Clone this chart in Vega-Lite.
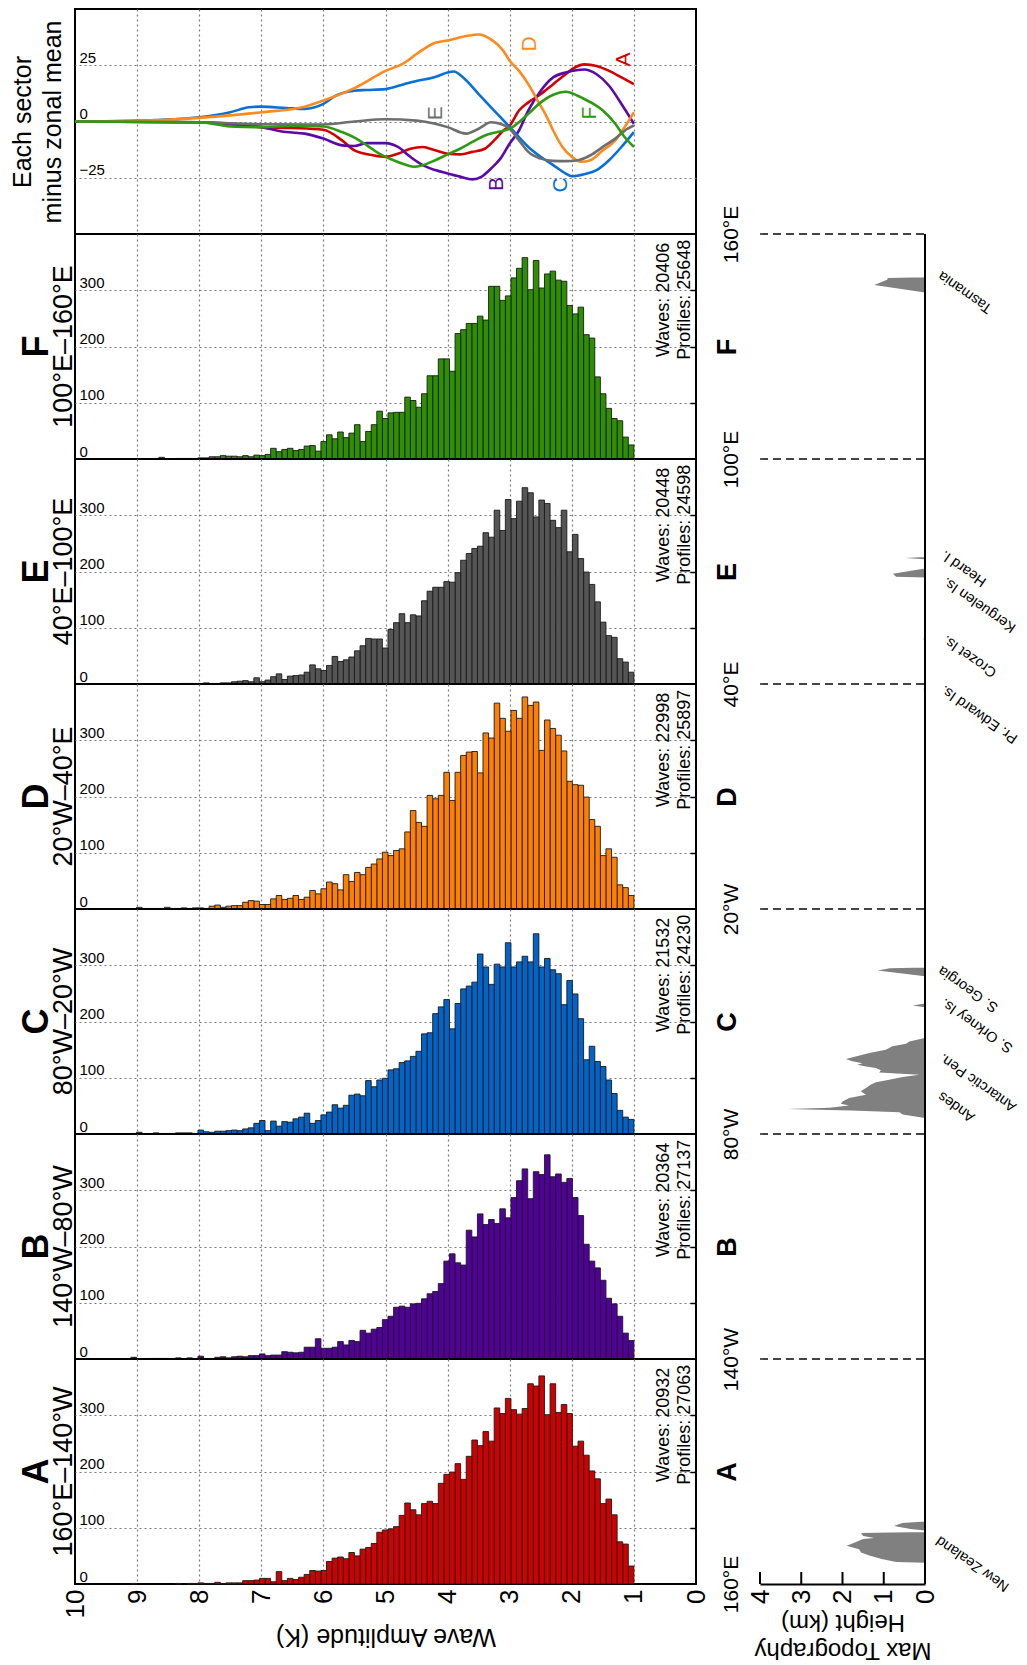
{
  "$schema": "https://vega.github.io/schema/vega-lite/v6.json",
  "background": "white",
  "padding": {"left": 9, "top": 8, "right": 2, "bottom": 2},
  "config": {
    "font": "Liberation Sans",
    "view": {"stroke": "black", "strokeWidth": 2},
    "axis": {"domain": false, "ticks": false, "tickSize": 0, "gridColor": "#7a7a7a", "gridDash": [2, 3], "gridWidth": 1.2, "labelColor": "black", "titleColor": "black", "titleFontWeight": "normal", "labelFont": "Liberation Sans", "titleFont": "Liberation Sans"},
    "title": {"color": "black", "subtitleColor": "black", "font": "Liberation Sans", "subtitleFont": "Liberation Sans"}
  },
  "datasets": {
    "hist": [
      {"s":"A","lo":1,"hi":1.09,"n":32},{"s":"A","lo":1.09,"hi":1.18,"n":71},{"s":"A","lo":1.18,"hi":1.27,"n":75},{"s":"A","lo":1.27,"hi":1.36,"n":123},{"s":"A","lo":1.36,"hi":1.45,"n":151},{"s":"A","lo":1.45,"hi":1.54,"n":143},{"s":"A","lo":1.54,"hi":1.63,"n":187},{"s":"A","lo":1.63,"hi":1.72,"n":201},{"s":"A","lo":1.72,"hi":1.81,"n":229},{"s":"A","lo":1.81,"hi":1.9,"n":254},
      {"s":"A","lo":1.9,"hi":1.99,"n":245},{"s":"A","lo":1.99,"hi":2.08,"n":303},{"s":"A","lo":2.08,"hi":2.17,"n":319},{"s":"A","lo":2.17,"hi":2.26,"n":305},{"s":"A","lo":2.26,"hi":2.35,"n":356},{"s":"A","lo":2.35,"hi":2.44,"n":301},{"s":"A","lo":2.44,"hi":2.53,"n":370},{"s":"A","lo":2.53,"hi":2.62,"n":352},{"s":"A","lo":2.62,"hi":2.71,"n":356},{"s":"A","lo":2.71,"hi":2.8,"n":312},
      {"s":"A","lo":2.8,"hi":2.89,"n":302},{"s":"A","lo":2.89,"hi":2.98,"n":310},{"s":"A","lo":2.98,"hi":3.07,"n":330},{"s":"A","lo":3.07,"hi":3.16,"n":303},{"s":"A","lo":3.16,"hi":3.25,"n":313},{"s":"A","lo":3.25,"hi":3.34,"n":254},{"s":"A","lo":3.34,"hi":3.43,"n":271},{"s":"A","lo":3.43,"hi":3.52,"n":246},{"s":"A","lo":3.52,"hi":3.61,"n":256},{"s":"A","lo":3.61,"hi":3.7,"n":227},
      {"s":"A","lo":3.7,"hi":3.79,"n":186},{"s":"A","lo":3.79,"hi":3.88,"n":214},{"s":"A","lo":3.88,"hi":3.97,"n":199},{"s":"A","lo":3.97,"hi":4.06,"n":195},{"s":"A","lo":4.06,"hi":4.15,"n":179},{"s":"A","lo":4.15,"hi":4.24,"n":143},{"s":"A","lo":4.24,"hi":4.33,"n":147},{"s":"A","lo":4.33,"hi":4.42,"n":143},{"s":"A","lo":4.42,"hi":4.51,"n":123},{"s":"A","lo":4.51,"hi":4.6,"n":132},
      {"s":"A","lo":4.6,"hi":4.69,"n":144},{"s":"A","lo":4.69,"hi":4.78,"n":122},{"s":"A","lo":4.78,"hi":4.87,"n":102},{"s":"A","lo":4.87,"hi":4.96,"n":98},{"s":"A","lo":4.96,"hi":5.05,"n":96},{"s":"A","lo":5.05,"hi":5.14,"n":92},{"s":"A","lo":5.14,"hi":5.23,"n":72},{"s":"A","lo":5.23,"hi":5.32,"n":65},{"s":"A","lo":5.32,"hi":5.41,"n":62},{"s":"A","lo":5.41,"hi":5.5,"n":50},
      {"s":"A","lo":5.5,"hi":5.59,"n":56},{"s":"A","lo":5.59,"hi":5.68,"n":45},{"s":"A","lo":5.68,"hi":5.77,"n":48},{"s":"A","lo":5.77,"hi":5.86,"n":46},{"s":"A","lo":5.86,"hi":5.95,"n":40},{"s":"A","lo":5.95,"hi":6.04,"n":24},{"s":"A","lo":6.04,"hi":6.13,"n":23},{"s":"A","lo":6.13,"hi":6.22,"n":24},{"s":"A","lo":6.22,"hi":6.31,"n":17},{"s":"A","lo":6.31,"hi":6.4,"n":12},
      {"s":"A","lo":6.4,"hi":6.49,"n":8},{"s":"A","lo":6.49,"hi":6.58,"n":10},{"s":"A","lo":6.58,"hi":6.67,"n":6},{"s":"A","lo":6.67,"hi":6.76,"n":22},{"s":"A","lo":6.76,"hi":6.85,"n":4},{"s":"A","lo":6.85,"hi":6.94,"n":10},{"s":"A","lo":6.94,"hi":7.03,"n":10},{"s":"A","lo":7.03,"hi":7.12,"n":7},{"s":"A","lo":7.12,"hi":7.21,"n":6},{"s":"A","lo":7.21,"hi":7.3,"n":6},
      {"s":"A","lo":7.3,"hi":7.39,"n":2},{"s":"A","lo":7.39,"hi":7.48,"n":2},{"s":"A","lo":7.48,"hi":7.57,"n":2},{"s":"A","lo":7.57,"hi":7.66,"n":1},{"s":"A","lo":7.66,"hi":7.75,"n":3},{"s":"A","lo":7.75,"hi":7.84,"n":1},{"s":"A","lo":7.84,"hi":7.93,"n":1},{"s":"A","lo":7.93,"hi":8.02,"n":2},{"s":"A","lo":8.02,"hi":8.11,"n":1},{"s":"A","lo":8.11,"hi":8.2,"n":1},
      {"s":"A","lo":8.29,"hi":8.38,"n":1},{"s":"A","lo":9.01,"hi":9.1,"n":1},

      {"s":"B","lo":1,"hi":1.09,"n":33},{"s":"B","lo":1.09,"hi":1.18,"n":46},{"s":"B","lo":1.18,"hi":1.27,"n":76},{"s":"B","lo":1.27,"hi":1.36,"n":98},{"s":"B","lo":1.36,"hi":1.45,"n":108},{"s":"B","lo":1.45,"hi":1.54,"n":140},{"s":"B","lo":1.54,"hi":1.63,"n":162},{"s":"B","lo":1.63,"hi":1.72,"n":174},{"s":"B","lo":1.72,"hi":1.81,"n":204},{"s":"B","lo":1.81,"hi":1.9,"n":255},
      {"s":"B","lo":1.9,"hi":1.99,"n":287},{"s":"B","lo":1.99,"hi":2.08,"n":321},{"s":"B","lo":2.08,"hi":2.17,"n":314},{"s":"B","lo":2.17,"hi":2.26,"n":329},{"s":"B","lo":2.26,"hi":2.35,"n":324},{"s":"B","lo":2.35,"hi":2.44,"n":363},{"s":"B","lo":2.44,"hi":2.53,"n":328},{"s":"B","lo":2.53,"hi":2.62,"n":333},{"s":"B","lo":2.62,"hi":2.71,"n":285},{"s":"B","lo":2.71,"hi":2.8,"n":338},
      {"s":"B","lo":2.8,"hi":2.89,"n":317},{"s":"B","lo":2.89,"hi":2.98,"n":287},{"s":"B","lo":2.98,"hi":3.07,"n":251},{"s":"B","lo":3.07,"hi":3.16,"n":267},{"s":"B","lo":3.16,"hi":3.25,"n":241},{"s":"B","lo":3.25,"hi":3.34,"n":248},{"s":"B","lo":3.34,"hi":3.43,"n":239},{"s":"B","lo":3.43,"hi":3.52,"n":258},{"s":"B","lo":3.52,"hi":3.61,"n":217},{"s":"B","lo":3.61,"hi":3.7,"n":229},
      {"s":"B","lo":3.7,"hi":3.79,"n":167},{"s":"B","lo":3.79,"hi":3.88,"n":171},{"s":"B","lo":3.88,"hi":3.97,"n":187},{"s":"B","lo":3.97,"hi":4.06,"n":174},{"s":"B","lo":4.06,"hi":4.15,"n":134},{"s":"B","lo":4.15,"hi":4.24,"n":120},{"s":"B","lo":4.24,"hi":4.33,"n":116},{"s":"B","lo":4.33,"hi":4.42,"n":107},{"s":"B","lo":4.42,"hi":4.51,"n":99},{"s":"B","lo":4.51,"hi":4.6,"n":98},
      {"s":"B","lo":4.6,"hi":4.69,"n":92},{"s":"B","lo":4.69,"hi":4.78,"n":94},{"s":"B","lo":4.78,"hi":4.87,"n":92},{"s":"B","lo":4.87,"hi":4.96,"n":76},{"s":"B","lo":4.96,"hi":5.05,"n":70},{"s":"B","lo":5.05,"hi":5.14,"n":56},{"s":"B","lo":5.14,"hi":5.23,"n":53},{"s":"B","lo":5.23,"hi":5.32,"n":46},{"s":"B","lo":5.32,"hi":5.41,"n":51},{"s":"B","lo":5.41,"hi":5.5,"n":31},
      {"s":"B","lo":5.5,"hi":5.59,"n":33},{"s":"B","lo":5.59,"hi":5.68,"n":25},{"s":"B","lo":5.68,"hi":5.77,"n":31},{"s":"B","lo":5.77,"hi":5.86,"n":21},{"s":"B","lo":5.86,"hi":5.95,"n":19},{"s":"B","lo":5.95,"hi":6.04,"n":19},{"s":"B","lo":6.04,"hi":6.13,"n":36},{"s":"B","lo":6.13,"hi":6.22,"n":21},{"s":"B","lo":6.22,"hi":6.31,"n":21},{"s":"B","lo":6.31,"hi":6.4,"n":12},
      {"s":"B","lo":6.4,"hi":6.49,"n":11},{"s":"B","lo":6.49,"hi":6.58,"n":12},{"s":"B","lo":6.58,"hi":6.67,"n":13},{"s":"B","lo":6.67,"hi":6.76,"n":7},{"s":"B","lo":6.76,"hi":6.85,"n":7},{"s":"B","lo":6.85,"hi":6.94,"n":6},{"s":"B","lo":6.94,"hi":7.03,"n":9},{"s":"B","lo":7.03,"hi":7.12,"n":6},{"s":"B","lo":7.12,"hi":7.21,"n":6},{"s":"B","lo":7.21,"hi":7.3,"n":4},
      {"s":"B","lo":7.3,"hi":7.39,"n":5},{"s":"B","lo":7.39,"hi":7.48,"n":4},{"s":"B","lo":7.48,"hi":7.57,"n":2},{"s":"B","lo":7.57,"hi":7.66,"n":4},{"s":"B","lo":7.66,"hi":7.75,"n":3},{"s":"B","lo":7.84,"hi":7.93,"n":1},{"s":"B","lo":7.93,"hi":8.02,"n":5},{"s":"B","lo":8.11,"hi":8.2,"n":2},{"s":"B","lo":8.29,"hi":8.38,"n":2},{"s":"B","lo":8.38,"hi":8.47,"n":1},
      {"s":"B","lo":8.47,"hi":8.56,"n":1},{"s":"B","lo":8.56,"hi":8.65,"n":1},{"s":"B","lo":8.65,"hi":8.74,"n":1},{"s":"B","lo":8.74,"hi":8.83,"n":1},{"s":"B","lo":9.01,"hi":9.1,"n":3},

      {"s":"C","lo":1,"hi":1.09,"n":26},{"s":"C","lo":1.09,"hi":1.18,"n":30},{"s":"C","lo":1.18,"hi":1.27,"n":42},{"s":"C","lo":1.27,"hi":1.36,"n":72},{"s":"C","lo":1.36,"hi":1.45,"n":96},{"s":"C","lo":1.45,"hi":1.54,"n":120},{"s":"C","lo":1.54,"hi":1.63,"n":129},{"s":"C","lo":1.63,"hi":1.72,"n":156},{"s":"C","lo":1.72,"hi":1.81,"n":132},{"s":"C","lo":1.81,"hi":1.9,"n":205},
      {"s":"C","lo":1.9,"hi":1.99,"n":249},{"s":"C","lo":1.99,"hi":2.08,"n":273},{"s":"C","lo":2.08,"hi":2.17,"n":230},{"s":"C","lo":2.17,"hi":2.26,"n":285},{"s":"C","lo":2.26,"hi":2.35,"n":292},{"s":"C","lo":2.35,"hi":2.44,"n":312},{"s":"C","lo":2.44,"hi":2.53,"n":297},{"s":"C","lo":2.53,"hi":2.62,"n":356},{"s":"C","lo":2.62,"hi":2.71,"n":306},{"s":"C","lo":2.71,"hi":2.8,"n":316},
      {"s":"C","lo":2.8,"hi":2.89,"n":306},{"s":"C","lo":2.89,"hi":2.98,"n":297},{"s":"C","lo":2.98,"hi":3.07,"n":340},{"s":"C","lo":3.07,"hi":3.16,"n":297},{"s":"C","lo":3.16,"hi":3.25,"n":302},{"s":"C","lo":3.25,"hi":3.34,"n":266},{"s":"C","lo":3.34,"hi":3.43,"n":297},{"s":"C","lo":3.43,"hi":3.52,"n":320},{"s":"C","lo":3.52,"hi":3.61,"n":270},{"s":"C","lo":3.61,"hi":3.7,"n":263},
      {"s":"C","lo":3.7,"hi":3.79,"n":258},{"s":"C","lo":3.79,"hi":3.88,"n":232},{"s":"C","lo":3.88,"hi":3.97,"n":187},{"s":"C","lo":3.97,"hi":4.06,"n":239},{"s":"C","lo":4.06,"hi":4.15,"n":226},{"s":"C","lo":4.15,"hi":4.24,"n":214},{"s":"C","lo":4.24,"hi":4.33,"n":180},{"s":"C","lo":4.33,"hi":4.42,"n":178},{"s":"C","lo":4.42,"hi":4.51,"n":147},{"s":"C","lo":4.51,"hi":4.6,"n":138},
      {"s":"C","lo":4.6,"hi":4.69,"n":130},{"s":"C","lo":4.69,"hi":4.78,"n":127},{"s":"C","lo":4.78,"hi":4.87,"n":116},{"s":"C","lo":4.87,"hi":4.96,"n":114},{"s":"C","lo":4.96,"hi":5.05,"n":99},{"s":"C","lo":5.05,"hi":5.14,"n":96},{"s":"C","lo":5.14,"hi":5.23,"n":84},{"s":"C","lo":5.23,"hi":5.32,"n":95},{"s":"C","lo":5.32,"hi":5.41,"n":68},{"s":"C","lo":5.41,"hi":5.5,"n":71},
      {"s":"C","lo":5.5,"hi":5.59,"n":69},{"s":"C","lo":5.59,"hi":5.68,"n":51},{"s":"C","lo":5.68,"hi":5.77,"n":46},{"s":"C","lo":5.77,"hi":5.86,"n":52},{"s":"C","lo":5.86,"hi":5.95,"n":39},{"s":"C","lo":5.95,"hi":6.04,"n":34},{"s":"C","lo":6.04,"hi":6.13,"n":24},{"s":"C","lo":6.13,"hi":6.22,"n":19},{"s":"C","lo":6.22,"hi":6.31,"n":37},{"s":"C","lo":6.31,"hi":6.4,"n":30},
      {"s":"C","lo":6.4,"hi":6.49,"n":27},{"s":"C","lo":6.49,"hi":6.58,"n":21},{"s":"C","lo":6.58,"hi":6.67,"n":22},{"s":"C","lo":6.67,"hi":6.76,"n":14},{"s":"C","lo":6.76,"hi":6.85,"n":23},{"s":"C","lo":6.85,"hi":6.94,"n":6},{"s":"C","lo":6.94,"hi":7.03,"n":24},{"s":"C","lo":7.03,"hi":7.12,"n":19},{"s":"C","lo":7.12,"hi":7.21,"n":11},{"s":"C","lo":7.21,"hi":7.3,"n":9},
      {"s":"C","lo":7.3,"hi":7.39,"n":6},{"s":"C","lo":7.39,"hi":7.48,"n":7},{"s":"C","lo":7.48,"hi":7.57,"n":6},{"s":"C","lo":7.57,"hi":7.66,"n":5},{"s":"C","lo":7.66,"hi":7.75,"n":5},{"s":"C","lo":7.75,"hi":7.84,"n":3},{"s":"C","lo":7.84,"hi":7.93,"n":4},{"s":"C","lo":7.93,"hi":8.02,"n":7},{"s":"C","lo":8.02,"hi":8.11,"n":1},{"s":"C","lo":8.11,"hi":8.2,"n":2},
      {"s":"C","lo":8.2,"hi":8.29,"n":2},{"s":"C","lo":8.29,"hi":8.38,"n":2},{"s":"C","lo":8.38,"hi":8.47,"n":1},{"s":"C","lo":8.47,"hi":8.56,"n":1},{"s":"C","lo":8.56,"hi":8.65,"n":1},{"s":"C","lo":8.65,"hi":8.74,"n":2},{"s":"C","lo":8.92,"hi":9.01,"n":3},{"s":"C","lo":9.01,"hi":9.1,"n":1},{"s":"C","lo":9.82,"hi":9.91,"n":1},

      {"s":"D","lo":1,"hi":1.09,"n":24},{"s":"D","lo":1.09,"hi":1.18,"n":38},{"s":"D","lo":1.18,"hi":1.27,"n":43},{"s":"D","lo":1.27,"hi":1.36,"n":92},{"s":"D","lo":1.36,"hi":1.45,"n":107},{"s":"D","lo":1.45,"hi":1.54,"n":95},{"s":"D","lo":1.54,"hi":1.63,"n":147},{"s":"D","lo":1.63,"hi":1.72,"n":159},{"s":"D","lo":1.72,"hi":1.81,"n":199},{"s":"D","lo":1.81,"hi":1.9,"n":220},
      {"s":"D","lo":1.9,"hi":1.99,"n":221},{"s":"D","lo":1.99,"hi":2.08,"n":227},{"s":"D","lo":2.08,"hi":2.17,"n":281},{"s":"D","lo":2.17,"hi":2.26,"n":309},{"s":"D","lo":2.26,"hi":2.35,"n":321},{"s":"D","lo":2.35,"hi":2.44,"n":336},{"s":"D","lo":2.44,"hi":2.53,"n":282},{"s":"D","lo":2.53,"hi":2.62,"n":368},{"s":"D","lo":2.62,"hi":2.71,"n":362},{"s":"D","lo":2.71,"hi":2.8,"n":377},
      {"s":"D","lo":2.8,"hi":2.89,"n":339},{"s":"D","lo":2.89,"hi":2.98,"n":353},{"s":"D","lo":2.98,"hi":3.07,"n":316},{"s":"D","lo":3.07,"hi":3.16,"n":339},{"s":"D","lo":3.16,"hi":3.25,"n":366},{"s":"D","lo":3.25,"hi":3.34,"n":304},{"s":"D","lo":3.34,"hi":3.43,"n":313},{"s":"D","lo":3.43,"hi":3.52,"n":242},{"s":"D","lo":3.52,"hi":3.61,"n":280},{"s":"D","lo":3.61,"hi":3.7,"n":279},
      {"s":"D","lo":3.7,"hi":3.79,"n":273},{"s":"D","lo":3.79,"hi":3.88,"n":243},{"s":"D","lo":3.88,"hi":3.97,"n":193},{"s":"D","lo":3.97,"hi":4.06,"n":243},{"s":"D","lo":4.06,"hi":4.15,"n":202},{"s":"D","lo":4.15,"hi":4.24,"n":196},{"s":"D","lo":4.24,"hi":4.33,"n":202},{"s":"D","lo":4.33,"hi":4.42,"n":147},{"s":"D","lo":4.42,"hi":4.51,"n":154},{"s":"D","lo":4.51,"hi":4.6,"n":175},
      {"s":"D","lo":4.6,"hi":4.69,"n":137},{"s":"D","lo":4.69,"hi":4.78,"n":107},{"s":"D","lo":4.78,"hi":4.87,"n":104},{"s":"D","lo":4.87,"hi":4.96,"n":95},{"s":"D","lo":4.96,"hi":5.05,"n":101},{"s":"D","lo":5.05,"hi":5.14,"n":89},{"s":"D","lo":5.14,"hi":5.23,"n":80},{"s":"D","lo":5.23,"hi":5.32,"n":74},{"s":"D","lo":5.32,"hi":5.41,"n":61},{"s":"D","lo":5.41,"hi":5.5,"n":65},
      {"s":"D","lo":5.5,"hi":5.59,"n":49},{"s":"D","lo":5.59,"hi":5.68,"n":61},{"s":"D","lo":5.68,"hi":5.77,"n":34},{"s":"D","lo":5.77,"hi":5.86,"n":45},{"s":"D","lo":5.86,"hi":5.95,"n":48},{"s":"D","lo":5.95,"hi":6.04,"n":36},{"s":"D","lo":6.04,"hi":6.13,"n":27},{"s":"D","lo":6.13,"hi":6.22,"n":33},{"s":"D","lo":6.22,"hi":6.31,"n":21},{"s":"D","lo":6.31,"hi":6.4,"n":17},
      {"s":"D","lo":6.4,"hi":6.49,"n":24},{"s":"D","lo":6.49,"hi":6.58,"n":19},{"s":"D","lo":6.58,"hi":6.67,"n":17},{"s":"D","lo":6.67,"hi":6.76,"n":24},{"s":"D","lo":6.76,"hi":6.85,"n":18},{"s":"D","lo":6.85,"hi":6.94,"n":8},{"s":"D","lo":6.94,"hi":7.03,"n":8},{"s":"D","lo":7.03,"hi":7.12,"n":14},{"s":"D","lo":7.12,"hi":7.21,"n":15},{"s":"D","lo":7.21,"hi":7.3,"n":12},
      {"s":"D","lo":7.3,"hi":7.39,"n":6},{"s":"D","lo":7.39,"hi":7.48,"n":6},{"s":"D","lo":7.48,"hi":7.57,"n":5},{"s":"D","lo":7.57,"hi":7.66,"n":3},{"s":"D","lo":7.66,"hi":7.75,"n":7},{"s":"D","lo":7.75,"hi":7.84,"n":5},{"s":"D","lo":7.84,"hi":7.93,"n":1},{"s":"D","lo":7.93,"hi":8.02,"n":2},{"s":"D","lo":8.02,"hi":8.11,"n":2},{"s":"D","lo":8.11,"hi":8.2,"n":1},
      {"s":"D","lo":8.2,"hi":8.29,"n":2},{"s":"D","lo":8.29,"hi":8.38,"n":1},{"s":"D","lo":8.38,"hi":8.47,"n":1},{"s":"D","lo":8.47,"hi":8.56,"n":3},{"s":"D","lo":8.56,"hi":8.65,"n":1},{"s":"D","lo":8.65,"hi":8.74,"n":1},{"s":"D","lo":8.74,"hi":8.83,"n":1},{"s":"D","lo":8.83,"hi":8.92,"n":1},{"s":"D","lo":8.92,"hi":9.01,"n":3},

      {"s":"E","lo":1,"hi":1.09,"n":21},{"s":"E","lo":1.09,"hi":1.18,"n":39},{"s":"E","lo":1.18,"hi":1.27,"n":45},{"s":"E","lo":1.27,"hi":1.36,"n":83},{"s":"E","lo":1.36,"hi":1.45,"n":86},{"s":"E","lo":1.45,"hi":1.54,"n":110},{"s":"E","lo":1.54,"hi":1.63,"n":146},{"s":"E","lo":1.63,"hi":1.72,"n":177},{"s":"E","lo":1.72,"hi":1.81,"n":199},{"s":"E","lo":1.81,"hi":1.9,"n":223},
      {"s":"E","lo":1.9,"hi":1.99,"n":266},{"s":"E","lo":1.99,"hi":2.08,"n":235},{"s":"E","lo":2.08,"hi":2.17,"n":309},{"s":"E","lo":2.17,"hi":2.26,"n":278},{"s":"E","lo":2.26,"hi":2.35,"n":291},{"s":"E","lo":2.35,"hi":2.44,"n":321},{"s":"E","lo":2.44,"hi":2.53,"n":327},{"s":"E","lo":2.53,"hi":2.62,"n":297},{"s":"E","lo":2.62,"hi":2.71,"n":340},{"s":"E","lo":2.71,"hi":2.8,"n":349},
      {"s":"E","lo":2.8,"hi":2.89,"n":325},{"s":"E","lo":2.89,"hi":2.98,"n":294},{"s":"E","lo":2.98,"hi":3.07,"n":328},{"s":"E","lo":3.07,"hi":3.16,"n":273},{"s":"E","lo":3.16,"hi":3.25,"n":309},{"s":"E","lo":3.25,"hi":3.34,"n":261},{"s":"E","lo":3.34,"hi":3.43,"n":269},{"s":"E","lo":3.43,"hi":3.52,"n":245},{"s":"E","lo":3.52,"hi":3.61,"n":241},{"s":"E","lo":3.61,"hi":3.7,"n":232},
      {"s":"E","lo":3.7,"hi":3.79,"n":220},{"s":"E","lo":3.79,"hi":3.88,"n":198},{"s":"E","lo":3.88,"hi":3.97,"n":181},{"s":"E","lo":3.97,"hi":4.06,"n":182},{"s":"E","lo":4.06,"hi":4.15,"n":172},{"s":"E","lo":4.15,"hi":4.24,"n":172},{"s":"E","lo":4.24,"hi":4.33,"n":165},{"s":"E","lo":4.33,"hi":4.42,"n":148},{"s":"E","lo":4.42,"hi":4.51,"n":121},{"s":"E","lo":4.51,"hi":4.6,"n":123},
      {"s":"E","lo":4.6,"hi":4.69,"n":109},{"s":"E","lo":4.69,"hi":4.78,"n":125},{"s":"E","lo":4.78,"hi":4.87,"n":109},{"s":"E","lo":4.87,"hi":4.96,"n":97},{"s":"E","lo":4.96,"hi":5.05,"n":64},{"s":"E","lo":5.05,"hi":5.14,"n":80},{"s":"E","lo":5.14,"hi":5.23,"n":80},{"s":"E","lo":5.23,"hi":5.32,"n":81},{"s":"E","lo":5.32,"hi":5.41,"n":68},{"s":"E","lo":5.41,"hi":5.5,"n":59},
      {"s":"E","lo":5.5,"hi":5.59,"n":48},{"s":"E","lo":5.59,"hi":5.68,"n":43},{"s":"E","lo":5.68,"hi":5.77,"n":40},{"s":"E","lo":5.77,"hi":5.86,"n":49},{"s":"E","lo":5.86,"hi":5.95,"n":33},{"s":"E","lo":5.95,"hi":6.04,"n":24},{"s":"E","lo":6.04,"hi":6.13,"n":27},{"s":"E","lo":6.13,"hi":6.22,"n":34},{"s":"E","lo":6.22,"hi":6.31,"n":21},{"s":"E","lo":6.31,"hi":6.4,"n":16},
      {"s":"E","lo":6.4,"hi":6.49,"n":15},{"s":"E","lo":6.49,"hi":6.58,"n":14},{"s":"E","lo":6.58,"hi":6.67,"n":8},{"s":"E","lo":6.67,"hi":6.76,"n":18},{"s":"E","lo":6.76,"hi":6.85,"n":13},{"s":"E","lo":6.85,"hi":6.94,"n":7},{"s":"E","lo":6.94,"hi":7.03,"n":4},{"s":"E","lo":7.03,"hi":7.12,"n":11},{"s":"E","lo":7.12,"hi":7.21,"n":4},{"s":"E","lo":7.21,"hi":7.3,"n":6},
      {"s":"E","lo":7.3,"hi":7.39,"n":5},{"s":"E","lo":7.39,"hi":7.48,"n":4},{"s":"E","lo":7.48,"hi":7.57,"n":2},{"s":"E","lo":7.57,"hi":7.66,"n":2},{"s":"E","lo":7.66,"hi":7.75,"n":1},{"s":"E","lo":7.75,"hi":7.84,"n":1},{"s":"E","lo":7.84,"hi":7.93,"n":2},{"s":"E","lo":7.93,"hi":8.02,"n":1},{"s":"E","lo":8.02,"hi":8.11,"n":1},{"s":"E","lo":8.11,"hi":8.2,"n":1},
      {"s":"E","lo":8.2,"hi":8.29,"n":1},

      {"s":"F","lo":1,"hi":1.09,"n":25},{"s":"F","lo":1.09,"hi":1.18,"n":39},{"s":"F","lo":1.18,"hi":1.27,"n":68},{"s":"F","lo":1.27,"hi":1.36,"n":72},{"s":"F","lo":1.36,"hi":1.45,"n":90},{"s":"F","lo":1.45,"hi":1.54,"n":116},{"s":"F","lo":1.54,"hi":1.63,"n":146},{"s":"F","lo":1.63,"hi":1.72,"n":215},{"s":"F","lo":1.72,"hi":1.81,"n":221},{"s":"F","lo":1.81,"hi":1.9,"n":270},
      {"s":"F","lo":1.9,"hi":1.99,"n":258},{"s":"F","lo":1.99,"hi":2.08,"n":273},{"s":"F","lo":2.08,"hi":2.17,"n":316},{"s":"F","lo":2.17,"hi":2.26,"n":318},{"s":"F","lo":2.26,"hi":2.35,"n":334},{"s":"F","lo":2.35,"hi":2.44,"n":329},{"s":"F","lo":2.44,"hi":2.53,"n":304},{"s":"F","lo":2.53,"hi":2.62,"n":353},{"s":"F","lo":2.62,"hi":2.71,"n":301},{"s":"F","lo":2.71,"hi":2.8,"n":358},
      {"s":"F","lo":2.8,"hi":2.89,"n":339},{"s":"F","lo":2.89,"hi":2.98,"n":322},{"s":"F","lo":2.98,"hi":3.07,"n":290},{"s":"F","lo":3.07,"hi":3.16,"n":282},{"s":"F","lo":3.16,"hi":3.25,"n":307},{"s":"F","lo":3.25,"hi":3.34,"n":307},{"s":"F","lo":3.34,"hi":3.43,"n":247},{"s":"F","lo":3.43,"hi":3.52,"n":254},{"s":"F","lo":3.52,"hi":3.61,"n":241},{"s":"F","lo":3.61,"hi":3.7,"n":241},
      {"s":"F","lo":3.7,"hi":3.79,"n":230},{"s":"F","lo":3.79,"hi":3.88,"n":223},{"s":"F","lo":3.88,"hi":3.97,"n":156},{"s":"F","lo":3.97,"hi":4.06,"n":178},{"s":"F","lo":4.06,"hi":4.15,"n":178},{"s":"F","lo":4.15,"hi":4.24,"n":148},{"s":"F","lo":4.24,"hi":4.33,"n":148},{"s":"F","lo":4.33,"hi":4.42,"n":116},{"s":"F","lo":4.42,"hi":4.51,"n":92},{"s":"F","lo":4.51,"hi":4.6,"n":104},
      {"s":"F","lo":4.6,"hi":4.69,"n":110},{"s":"F","lo":4.69,"hi":4.78,"n":83},{"s":"F","lo":4.78,"hi":4.87,"n":83},{"s":"F","lo":4.87,"hi":4.96,"n":82},{"s":"F","lo":4.96,"hi":5.05,"n":72},{"s":"F","lo":5.05,"hi":5.14,"n":85},{"s":"F","lo":5.14,"hi":5.23,"n":61},{"s":"F","lo":5.23,"hi":5.32,"n":49},{"s":"F","lo":5.32,"hi":5.41,"n":31},{"s":"F","lo":5.41,"hi":5.5,"n":61},
      {"s":"F","lo":5.5,"hi":5.59,"n":46},{"s":"F","lo":5.59,"hi":5.68,"n":38},{"s":"F","lo":5.68,"hi":5.77,"n":48},{"s":"F","lo":5.77,"hi":5.86,"n":36},{"s":"F","lo":5.86,"hi":5.95,"n":43},{"s":"F","lo":5.95,"hi":6.04,"n":31},{"s":"F","lo":6.04,"hi":6.13,"n":14},{"s":"F","lo":6.13,"hi":6.22,"n":24},{"s":"F","lo":6.22,"hi":6.31,"n":23},{"s":"F","lo":6.31,"hi":6.4,"n":17},
      {"s":"F","lo":6.4,"hi":6.49,"n":15},{"s":"F","lo":6.49,"hi":6.58,"n":19},{"s":"F","lo":6.58,"hi":6.67,"n":17},{"s":"F","lo":6.67,"hi":6.76,"n":13},{"s":"F","lo":6.76,"hi":6.85,"n":19},{"s":"F","lo":6.85,"hi":6.94,"n":8},{"s":"F","lo":6.94,"hi":7.03,"n":6},{"s":"F","lo":7.03,"hi":7.12,"n":7},{"s":"F","lo":7.12,"hi":7.21,"n":4},{"s":"F","lo":7.21,"hi":7.3,"n":6},
      {"s":"F","lo":7.3,"hi":7.39,"n":4},{"s":"F","lo":7.39,"hi":7.48,"n":5},{"s":"F","lo":7.48,"hi":7.57,"n":5},{"s":"F","lo":7.57,"hi":7.66,"n":6},{"s":"F","lo":7.66,"hi":7.75,"n":4},{"s":"F","lo":7.75,"hi":7.84,"n":4},{"s":"F","lo":7.84,"hi":7.93,"n":2},{"s":"F","lo":7.93,"hi":8.02,"n":2},{"s":"F","lo":8.02,"hi":8.11,"n":1},{"s":"F","lo":8.11,"hi":8.2,"n":1},
      {"s":"F","lo":8.2,"hi":8.29,"n":1},{"s":"F","lo":8.29,"hi":8.38,"n":1},{"s":"F","lo":8.56,"hi":8.65,"n":3}
    ],
    "stats": [
      {"s":"A","lines":["Waves: 20932","Profiles: 27063"]},
      {"s":"B","lines":["Waves: 20364","Profiles: 27137"]},
      {"s":"C","lines":["Waves: 21532","Profiles: 24230"]},
      {"s":"D","lines":["Waves: 22998","Profiles: 25897"]},
      {"s":"E","lines":["Waves: 20448","Profiles: 24598"]},
      {"s":"F","lines":["Waves: 20406","Profiles: 25648"]}
    ],
    "diff": [
      {"s":"A","amp":10,"v":0},{"s":"A","amp":8,"v":-0.3},{"s":"A","amp":7,"v":-2.5},{"s":"A","amp":6.5,"v":-2.9},{"s":"A","amp":6,"v":-3.7},{"s":"A","amp":5.7,"v":-8.4},{"s":"A","amp":5.5,"v":-12.8},{"s":"A","amp":5.2,"v":-15},{"s":"A","amp":5,"v":-15.7},{"s":"A","amp":4.8,"v":-14.3},{"s":"A","amp":4.6,"v":-12.1},{"s":"A","amp":4.4,"v":-11.3},{"s":"A","amp":4.2,"v":-12.8},{"s":"A","amp":4,"v":-14.3},{"s":"A","amp":3.8,"v":-14.6},{"s":"A","amp":3.6,"v":-13.5},{"s":"A","amp":3.4,"v":-12.1},{"s":"A","amp":3.25,"v":-8.4},{"s":"A","amp":3.1,"v":-4},{"s":"A","amp":3,"v":-1.8},{"s":"A","amp":2.85,"v":4.9},{"s":"A","amp":2.7,"v":8.5},{"s":"A","amp":2.5,"v":12.2},{"s":"A","amp":2.3,"v":16.6},{"s":"A","amp":2.1,"v":21},{"s":"A","amp":1.95,"v":24},{"s":"A","amp":1.8,"v":25.4},{"s":"A","amp":1.6,"v":24.7},{"s":"A","amp":1.4,"v":22.5},{"s":"A","amp":1.2,"v":19.6},{"s":"A","amp":1,"v":16.6},
      {"s":"B","amp":10,"v":0},{"s":"B","amp":8,"v":-0.3},{"s":"B","amp":7,"v":-2.5},{"s":"B","amp":6.6,"v":-4.7},{"s":"B","amp":6.3,"v":-5.4},{"s":"B","amp":6,"v":-7.6},{"s":"B","amp":5.7,"v":-10.6},{"s":"B","amp":5.5,"v":-10.9},{"s":"B","amp":5.3,"v":-9.6},{"s":"B","amp":5,"v":-9.6},{"s":"B","amp":4.8,"v":-11.3},{"s":"B","amp":4.6,"v":-15.7},{"s":"B","amp":4.4,"v":-19.4},{"s":"B","amp":4.2,"v":-21.6},{"s":"B","amp":4,"v":-23.1},{"s":"B","amp":3.8,"v":-24.5},{"s":"B","amp":3.6,"v":-25.7},{"s":"B","amp":3.45,"v":-24.5},{"s":"B","amp":3.3,"v":-20.9},{"s":"B","amp":3.15,"v":-16.5},{"s":"B","amp":3,"v":-9.8},{"s":"B","amp":2.85,"v":-4},{"s":"B","amp":2.7,"v":4.9},{"s":"B","amp":2.5,"v":13.7},{"s":"B","amp":2.3,"v":19.6},{"s":"B","amp":2.1,"v":21.8},{"s":"B","amp":1.9,"v":22.9},{"s":"B","amp":1.8,"v":23.1},{"s":"B","amp":1.6,"v":21},{"s":"B","amp":1.4,"v":15.9},{"s":"B","amp":1.2,"v":7.8},{"s":"B","amp":1,"v":-1},
      {"s":"C","amp":10,"v":0},{"s":"C","amp":9,"v":0.4},{"s":"C","amp":8,"v":1.9},{"s":"C","amp":7.5,"v":4.1},{"s":"C","amp":7.2,"v":6.3},{"s":"C","amp":7,"v":6.6},{"s":"C","amp":6.6,"v":6},{"s":"C","amp":6.3,"v":5.6},{"s":"C","amp":6,"v":7.8},{"s":"C","amp":5.8,"v":11.5},{"s":"C","amp":5.5,"v":13.7},{"s":"C","amp":5.3,"v":14},{"s":"C","amp":5,"v":14.4},{"s":"C","amp":4.7,"v":16.6},{"s":"C","amp":4.5,"v":18},{"s":"C","amp":4.2,"v":19.8},{"s":"C","amp":4,"v":21.8},{"s":"C","amp":3.9,"v":22.2},{"s":"C","amp":3.75,"v":19.6},{"s":"C","amp":3.5,"v":12.2},{"s":"C","amp":3.3,"v":6.3},{"s":"C","amp":3.05,"v":-1},{"s":"C","amp":2.9,"v":-5.4},{"s":"C","amp":2.7,"v":-11.3},{"s":"C","amp":2.5,"v":-15.7},{"s":"C","amp":2.3,"v":-19.4},{"s":"C","amp":2.1,"v":-23.1},{"s":"C","amp":2,"v":-24.3},{"s":"C","amp":1.8,"v":-23.4},{"s":"C","amp":1.6,"v":-21.6},{"s":"C","amp":1.4,"v":-17.2},{"s":"C","amp":1.2,"v":-11.3},{"s":"C","amp":1,"v":-4.7},
      {"s":"D","amp":10,"v":0},{"s":"D","amp":9,"v":0.3},{"s":"D","amp":8,"v":1.6},{"s":"D","amp":7,"v":4.1},{"s":"D","amp":6.3,"v":6.6},{"s":"D","amp":6,"v":9.3},{"s":"D","amp":5.5,"v":14.8},{"s":"D","amp":5,"v":22.5},{"s":"D","amp":4.7,"v":26},{"s":"D","amp":4.5,"v":30},{"s":"D","amp":4.2,"v":35},{"s":"D","amp":4,"v":36},{"s":"D","amp":3.7,"v":38},{"s":"D","amp":3.5,"v":38.7},{"s":"D","amp":3.3,"v":36.5},{"s":"D","amp":3.1,"v":31.3},{"s":"D","amp":3,"v":27},{"s":"D","amp":2.85,"v":22.5},{"s":"D","amp":2.7,"v":16.6},{"s":"D","amp":2.55,"v":9.3},{"s":"D","amp":2.4,"v":1.9},{"s":"D","amp":2.3,"v":-4},{"s":"D","amp":2.15,"v":-11.3},{"s":"D","amp":2,"v":-15.7},{"s":"D","amp":1.85,"v":-17.9},{"s":"D","amp":1.7,"v":-17.2},{"s":"D","amp":1.5,"v":-12.8},{"s":"D","amp":1.3,"v":-8.4},{"s":"D","amp":1.15,"v":-2.5},{"s":"D","amp":1,"v":4.1},
      {"s":"E","amp":10,"v":0},{"s":"E","amp":8,"v":-0.3},{"s":"E","amp":7,"v":-1.2},{"s":"E","amp":6,"v":-1.3},{"s":"E","amp":5.5,"v":0},{"s":"E","amp":5,"v":1},{"s":"E","amp":4.5,"v":0.4},{"s":"E","amp":4.2,"v":-1},{"s":"E","amp":4,"v":-2.5},{"s":"E","amp":3.7,"v":-5.4},{"s":"E","amp":3.5,"v":-3.2},{"s":"E","amp":3.3,"v":-0.3},{"s":"E","amp":3.2,"v":-0.7},{"s":"E","amp":3,"v":-3.2},{"s":"E","amp":2.85,"v":-8.4},{"s":"E","amp":2.7,"v":-13.5},{"s":"E","amp":2.5,"v":-16.5},{"s":"E","amp":2.3,"v":-17.5},{"s":"E","amp":2.1,"v":-17.6},{"s":"E","amp":1.9,"v":-17.2},{"s":"E","amp":1.7,"v":-15},{"s":"E","amp":1.5,"v":-11.3},{"s":"E","amp":1.3,"v":-7.6},{"s":"E","amp":1.1,"v":-3.2},{"s":"E","amp":1,"v":-1.8},
      {"s":"F","amp":10,"v":0},{"s":"F","amp":8,"v":-0.3},{"s":"F","amp":7.5,"v":-2.2},{"s":"F","amp":7,"v":-2.5},{"s":"F","amp":6.5,"v":-1.9},{"s":"F","amp":6,"v":-2.2},{"s":"F","amp":5.7,"v":-4.7},{"s":"F","amp":5.5,"v":-7.2},{"s":"F","amp":5.3,"v":-10.6},{"s":"F","amp":5.1,"v":-14.3},{"s":"F","amp":4.9,"v":-16.9},{"s":"F","amp":4.7,"v":-19},{"s":"F","amp":4.55,"v":-20.1},{"s":"F","amp":4.4,"v":-19.4},{"s":"F","amp":4.2,"v":-17.2},{"s":"F","amp":4,"v":-14.6},{"s":"F","amp":3.8,"v":-12.1},{"s":"F","amp":3.6,"v":-9.1},{"s":"F","amp":3.4,"v":-6.2},{"s":"F","amp":3.2,"v":-4.7},{"s":"F","amp":3,"v":-3.2},{"s":"F","amp":2.85,"v":-0.3},{"s":"F","amp":2.7,"v":3.4},{"s":"F","amp":2.5,"v":8.5},{"s":"F","amp":2.3,"v":11.9},{"s":"F","amp":2.1,"v":13.2},{"s":"F","amp":2,"v":12.6},{"s":"F","amp":1.85,"v":10.7},{"s":"F","amp":1.65,"v":7.8},{"s":"F","amp":1.5,"v":4.9},{"s":"F","amp":1.3,"v":-1},{"s":"F","amp":1.15,"v":-6.9},{"s":"F","amp":1,"v":-11.3}
    ],
    "difflab": [
      {"s":"A","amp":1.16,"v":27.6},{"s":"B","amp":3.21,"v":-27.8},{"s":"C","amp":2.18,"v":-28.2},
      {"s":"D","amp":2.68,"v":34.5},{"s":"E","amp":4.19,"v":3.7},{"s":"F","amp":1.71,"v":3.7}
    ],
    "topo": [
      {"lon":160,"h":0},{"lon":165.7,"h":0},{"lon":165.9,"h":0.7},{"lon":166.7,"h":1.05},{"lon":167.6,"h":1.35},{"lon":168.4,"h":1.55},{"lon":169.3,"h":1.6},{"lon":170.2,"h":1.9},{"lon":171.1,"h":1.7},{"lon":172,"h":1.5},{"lon":172.3,"h":1.23},{"lon":172.8,"h":1.5},{"lon":173.6,"h":1.55},{"lon":173.9,"h":0},
      {"lon":174.3,"h":0},{"lon":174.7,"h":0.35},{"lon":175.5,"h":0.75},{"lon":176.3,"h":0.55},{"lon":176.7,"h":0},
      {"lon":284.3,"h":0},{"lon":285.2,"h":0.54},{"lon":285.8,"h":0.62},{"lon":286.3,"h":1.8},{"lon":286.7,"h":3.33},{"lon":287.0,"h":2.32},{"lon":287.6,"h":1.84},{"lon":288.1,"h":2.04},{"lon":288.7,"h":2.0},{"lon":289.6,"h":1.84},{"lon":290.5,"h":1.43},{"lon":291.4,"h":1.56},{"lon":292.3,"h":1.43},{"lon":293.2,"h":1.31},{"lon":293.8,"h":1.19},{"lon":294.5,"h":0.87},{"lon":295.2,"h":0.54},{"lon":295.8,"h":0.14},{"lon":296.4,"h":1.11},{"lon":297,"h":1.07},{"lon":297.6,"h":1.19},{"lon":298,"h":1.43},{"lon":298.5,"h":1.64},{"lon":298.9,"h":1.52},{"lon":299.4,"h":1.76},{"lon":300,"h":1.92},{"lon":300.7,"h":1.68},{"lon":301.6,"h":1.35},{"lon":302.5,"h":0.95},{"lon":303.4,"h":0.79},{"lon":304.1,"h":0.46},{"lon":304.7,"h":0.38},{"lon":305.3,"h":0.14},{"lon":305.6,"h":0},
      {"lon":313.8,"h":0},{"lon":314.3,"h":0.3},{"lon":314.8,"h":0},
      {"lon":322.1,"h":0},{"lon":323.6,"h":1.15},{"lon":324.2,"h":0.85},{"lon":324.4,"h":0},
      {"lon":398.2,"h":0},{"lon":398.4,"h":0.05},{"lon":398.6,"h":0},
      {"lon":411.8,"h":0},{"lon":412,"h":0.05},{"lon":412.2,"h":0},
      {"lon":428.4,"h":0},{"lon":428.6,"h":0.7},{"lon":429.4,"h":0.78},{"lon":430.8,"h":0},
      {"lon":433.3,"h":0},{"lon":433.6,"h":0.48},{"lon":433.9,"h":0},
      {"lon":504.4,"h":0},{"lon":506.4,"h":1.23},{"lon":507.8,"h":0.92},{"lon":508.3,"h":0.9},{"lon":508.5,"h":0},
      {"lon":520,"h":0}
    ],
    "sectors": [{"lon":220},{"lon":280},{"lon":340},{"lon":400},{"lon":460},{"lon":520}],
    "heightTicks": [{"h":0},{"h":1},{"h":2},{"h":3},{"h":4}],
    "islands": [
      {"name":"Tasmania","lon":509.3,"h":-0.36},
      {"name":"Heard I.","lon":434.8,"h":-0.43},
      {"name":"Kerguelen Is.","lon":427.7,"h":-0.47},
      {"name":"Crozet Is.","lon":412.2,"h":-0.47},
      {"name":"Pr. Edward Is.","lon":398.9,"h":-0.42},
      {"name":"S. Georgia","lon":324.0,"h":-0.36},
      {"name":"S. Orkney Is.","lon":315.4,"h":-0.43},
      {"name":"Antarctic Pen.","lon":300.7,"h":-0.39},
      {"name":"Andes","lon":290.5,"h":-0.36},
      {"name":"New Zealand","lon":172.0,"h":-0.31}
    ]
  },
  "hconcat": [
    {
      "spacing": 0,
      "bounds": "flush",
      "vconcat": [
        {
          "width": 621, "height": 225,
          "layer": [
            {
              "data": {"name": "diff"},
              "mark": {"type": "line", "strokeWidth": 2.6, "interpolate": "monotone"},
              "encoding": {
                "x": {"field": "amp", "type": "quantitative", "scale": {"domain": [0, 10], "reverse": true, "nice": false}, "axis": {"values": [1,2,3,4,5,6,7,8,9], "grid": true, "labels": false, "title": null}},
                "y": {"field": "v", "type": "quantitative", "scale": {"domain": [-50, 50], "nice": false}, "axis": {"values": [-25, 0, 25], "grid": true, "labelAlign": "left", "labelBaseline": "bottom", "labelPadding": -4, "labelFontSize": 15, "labelFlush": false, "title": ["Each sector", "minus zonal mean"], "titleFontSize": 25, "titleLineHeight": 30, "titlePadding": 10}},
                "color": {"field": "s", "type": "nominal", "scale": {"domain": ["A","B","C","D","E","F"], "range": ["#d40000","#5a0aa6","#0a6fd6","#ff8a1c","#6e6e6e","#2e9a12"]}, "legend": null}
              }
            },
            {
              "data": {"name": "difflab"},
              "mark": {"type": "text", "angle": 270, "fontSize": 21, "align": "center", "baseline": "middle"},
              "encoding": {
                "x": {"field": "amp", "type": "quantitative"},
                "y": {"field": "v", "type": "quantitative"},
                "text": {"field": "s"},
                "color": {"field": "s", "type": "nominal", "legend": null}
              }
            }
          ]
        },
        {
          "width": 621, "height": 225,
          "title": {"text": "F", "subtitle": "100°E–160°E", "orient": "left", "anchor": "middle", "offset": -3, "fontSize": 36, "fontWeight": "bold", "subtitleFontSize": 27, "subtitlePadding": -5},
          "resolve": {"axis": {"y": "independent"}},
          "layer": [
            {"data": {"name": "hist"}, "transform": [{"filter": "datum.s === 'F'"}],
             "mark": {"type": "bar", "color": "#2e9000", "stroke": "#1a1a1a", "strokeWidth": 0.9},
             "encoding": {
               "x": {"field": "lo", "type": "quantitative", "scale": {"domain": [0, 10], "reverse": true, "nice": false}, "axis": {"values": [1,2,3,4,5,6,7,8,9], "grid": true, "labels": false, "title": null}},
               "x2": {"field": "hi"},
               "y": {"field": "n", "type": "quantitative", "scale": {"domain": [0, 400], "nice": false}, "axis": {"values": [0,100,200,300], "grid": true, "gridOpacity": {"condition": {"test": "datum.value == 0", "value": 0}, "value": 1}, "labelAlign": "left", "labelBaseline": "bottom", "labelPadding": -4, "labelFontSize": 15, "labelFlush": false, "title": null}},
               "y2": {"datum": 0}
             }},
            {"data": {"name": "stats"}, "transform": [{"filter": "datum.s === 'F'"}],
             "mark": {"type": "text", "angle": 270, "align": "center", "baseline": "middle", "fontSize": 18, "lineHeight": 21},
             "encoding": {"x": {"datum": 0.52}, "y": {"datum": 283, "type": "quantitative", "axis": {"orient": "right", "values": [100,200,300], "ticks": true, "tickSize": -6, "tickWidth": 1.5, "tickColor": "black", "labels": false, "grid": false, "domain": false, "title": null}}, "text": {"field": "lines"}}}
          ]
        },
        {
          "width": 621, "height": 225,
          "title": {"text": "E", "subtitle": "40°E–100°E", "orient": "left", "anchor": "middle", "offset": -3, "fontSize": 36, "fontWeight": "bold", "subtitleFontSize": 27, "subtitlePadding": -5},
          "resolve": {"axis": {"y": "independent"}},
          "layer": [
            {"data": {"name": "hist"}, "transform": [{"filter": "datum.s === 'E'"}],
             "mark": {"type": "bar", "color": "#555555", "stroke": "#1a1a1a", "strokeWidth": 0.9},
             "encoding": {
               "x": {"field": "lo", "type": "quantitative", "scale": {"domain": [0, 10], "reverse": true, "nice": false}, "axis": {"values": [1,2,3,4,5,6,7,8,9], "grid": true, "labels": false, "title": null}},
               "x2": {"field": "hi"},
               "y": {"field": "n", "type": "quantitative", "scale": {"domain": [0, 400], "nice": false}, "axis": {"values": [0,100,200,300], "grid": true, "gridOpacity": {"condition": {"test": "datum.value == 0", "value": 0}, "value": 1}, "labelAlign": "left", "labelBaseline": "bottom", "labelPadding": -4, "labelFontSize": 15, "labelFlush": false, "title": null}},
               "y2": {"datum": 0}
             }},
            {"data": {"name": "stats"}, "transform": [{"filter": "datum.s === 'E'"}],
             "mark": {"type": "text", "angle": 270, "align": "center", "baseline": "middle", "fontSize": 18, "lineHeight": 21},
             "encoding": {"x": {"datum": 0.52}, "y": {"datum": 283, "type": "quantitative", "axis": {"orient": "right", "values": [100,200,300], "ticks": true, "tickSize": -6, "tickWidth": 1.5, "tickColor": "black", "labels": false, "grid": false, "domain": false, "title": null}}, "text": {"field": "lines"}}}
          ]
        },
        {
          "width": 621, "height": 225,
          "title": {"text": "D", "subtitle": "20°W–40°E", "orient": "left", "anchor": "middle", "offset": -3, "fontSize": 36, "fontWeight": "bold", "subtitleFontSize": 27, "subtitlePadding": -5},
          "resolve": {"axis": {"y": "independent"}},
          "layer": [
            {"data": {"name": "hist"}, "transform": [{"filter": "datum.s === 'D'"}],
             "mark": {"type": "bar", "color": "#ff8000", "stroke": "#1a1a1a", "strokeWidth": 0.9},
             "encoding": {
               "x": {"field": "lo", "type": "quantitative", "scale": {"domain": [0, 10], "reverse": true, "nice": false}, "axis": {"values": [1,2,3,4,5,6,7,8,9], "grid": true, "labels": false, "title": null}},
               "x2": {"field": "hi"},
               "y": {"field": "n", "type": "quantitative", "scale": {"domain": [0, 400], "nice": false}, "axis": {"values": [0,100,200,300], "grid": true, "gridOpacity": {"condition": {"test": "datum.value == 0", "value": 0}, "value": 1}, "labelAlign": "left", "labelBaseline": "bottom", "labelPadding": -4, "labelFontSize": 15, "labelFlush": false, "title": null}},
               "y2": {"datum": 0}
             }},
            {"data": {"name": "stats"}, "transform": [{"filter": "datum.s === 'D'"}],
             "mark": {"type": "text", "angle": 270, "align": "center", "baseline": "middle", "fontSize": 18, "lineHeight": 21},
             "encoding": {"x": {"datum": 0.52}, "y": {"datum": 283, "type": "quantitative", "axis": {"orient": "right", "values": [100,200,300], "ticks": true, "tickSize": -6, "tickWidth": 1.5, "tickColor": "black", "labels": false, "grid": false, "domain": false, "title": null}}, "text": {"field": "lines"}}}
          ]
        },
        {
          "width": 621, "height": 225,
          "title": {"text": "C", "subtitle": "80°W–20°W", "orient": "left", "anchor": "middle", "offset": -3, "fontSize": 36, "fontWeight": "bold", "subtitleFontSize": 27, "subtitlePadding": -5},
          "resolve": {"axis": {"y": "independent"}},
          "layer": [
            {"data": {"name": "hist"}, "transform": [{"filter": "datum.s === 'C'"}],
             "mark": {"type": "bar", "color": "#0064c8", "stroke": "#1a1a1a", "strokeWidth": 0.9},
             "encoding": {
               "x": {"field": "lo", "type": "quantitative", "scale": {"domain": [0, 10], "reverse": true, "nice": false}, "axis": {"values": [1,2,3,4,5,6,7,8,9], "grid": true, "labels": false, "title": null}},
               "x2": {"field": "hi"},
               "y": {"field": "n", "type": "quantitative", "scale": {"domain": [0, 400], "nice": false}, "axis": {"values": [0,100,200,300], "grid": true, "gridOpacity": {"condition": {"test": "datum.value == 0", "value": 0}, "value": 1}, "labelAlign": "left", "labelBaseline": "bottom", "labelPadding": -4, "labelFontSize": 15, "labelFlush": false, "title": null}},
               "y2": {"datum": 0}
             }},
            {"data": {"name": "stats"}, "transform": [{"filter": "datum.s === 'C'"}],
             "mark": {"type": "text", "angle": 270, "align": "center", "baseline": "middle", "fontSize": 18, "lineHeight": 21},
             "encoding": {"x": {"datum": 0.52}, "y": {"datum": 283, "type": "quantitative", "axis": {"orient": "right", "values": [100,200,300], "ticks": true, "tickSize": -6, "tickWidth": 1.5, "tickColor": "black", "labels": false, "grid": false, "domain": false, "title": null}}, "text": {"field": "lines"}}}
          ]
        },
        {
          "width": 621, "height": 225,
          "title": {"text": "B", "subtitle": "140°W–80°W", "orient": "left", "anchor": "middle", "offset": -3, "fontSize": 36, "fontWeight": "bold", "subtitleFontSize": 27, "subtitlePadding": -5},
          "resolve": {"axis": {"y": "independent"}},
          "layer": [
            {"data": {"name": "hist"}, "transform": [{"filter": "datum.s === 'B'"}],
             "mark": {"type": "bar", "color": "#52009c", "stroke": "#1a1a1a", "strokeWidth": 0.9},
             "encoding": {
               "x": {"field": "lo", "type": "quantitative", "scale": {"domain": [0, 10], "reverse": true, "nice": false}, "axis": {"values": [1,2,3,4,5,6,7,8,9], "grid": true, "labels": false, "title": null}},
               "x2": {"field": "hi"},
               "y": {"field": "n", "type": "quantitative", "scale": {"domain": [0, 400], "nice": false}, "axis": {"values": [0,100,200,300], "grid": true, "gridOpacity": {"condition": {"test": "datum.value == 0", "value": 0}, "value": 1}, "labelAlign": "left", "labelBaseline": "bottom", "labelPadding": -4, "labelFontSize": 15, "labelFlush": false, "title": null}},
               "y2": {"datum": 0}
             }},
            {"data": {"name": "stats"}, "transform": [{"filter": "datum.s === 'B'"}],
             "mark": {"type": "text", "angle": 270, "align": "center", "baseline": "middle", "fontSize": 18, "lineHeight": 21},
             "encoding": {"x": {"datum": 0.52}, "y": {"datum": 283, "type": "quantitative", "axis": {"orient": "right", "values": [100,200,300], "ticks": true, "tickSize": -6, "tickWidth": 1.5, "tickColor": "black", "labels": false, "grid": false, "domain": false, "title": null}}, "text": {"field": "lines"}}}
          ]
        },
        {
          "width": 621, "height": 225,
          "title": {"text": "A", "subtitle": "160°E–140°W", "orient": "left", "anchor": "middle", "offset": -16, "fontSize": 36, "fontWeight": "bold", "subtitleFontSize": 27, "subtitlePadding": -5},
          "resolve": {"axis": {"y": "independent"}},
          "layer": [
            {"data": {"name": "hist"}, "transform": [{"filter": "datum.s === 'A'"}],
             "mark": {"type": "bar", "color": "#d00000", "stroke": "#1a1a1a", "strokeWidth": 0.9},
             "encoding": {
               "x": {"field": "lo", "type": "quantitative", "scale": {"domain": [0, 10], "reverse": true, "nice": false}, "axis": {"values": [0,1,2,3,4,5,6,7,8,9,10], "format": "d", "grid": true, "gridOpacity": {"condition": {"test": "datum.value == 0 || datum.value == 10", "value": 0}, "value": 1}, "labelAngle": 270, "labelAlign": "right", "labelBaseline": "middle", "labelPadding": 5, "labelFontSize": 26, "labelFlush": false, "title": "Wave Amplitude (K)", "titleAngle": 180, "titleBaseline": "bottom", "titleFontSize": 25, "titlePadding": 6}},
               "x2": {"field": "hi"},
               "y": {"field": "n", "type": "quantitative", "scale": {"domain": [0, 400], "nice": false}, "axis": {"values": [0,100,200,300], "grid": true, "gridOpacity": {"condition": {"test": "datum.value == 0", "value": 0}, "value": 1}, "labelAlign": "left", "labelBaseline": "bottom", "labelPadding": -4, "labelFontSize": 15, "labelFlush": false, "title": null}},
               "y2": {"datum": 0}
             }},
            {"data": {"name": "stats"}, "transform": [{"filter": "datum.s === 'A'"}],
             "mark": {"type": "text", "angle": 270, "align": "center", "baseline": "middle", "fontSize": 18, "lineHeight": 21},
             "encoding": {"x": {"datum": 0.52}, "y": {"datum": 283, "type": "quantitative", "axis": {"orient": "right", "values": [100,200,300], "ticks": true, "tickSize": -6, "tickWidth": 1.5, "tickColor": "black", "labels": false, "grid": false, "domain": false, "title": null}}, "text": {"field": "lines"}}}
          ]
        }
      ]
    },
    {
      "width": 165, "height": 1575,
      "view": {"stroke": null},
      "layer": [
        {
          "data": {"name": "topo"},
          "mark": {"type": "area", "orient": "horizontal", "color": "#808080"},
          "encoding": {
            "y": {"field": "lon", "type": "quantitative", "scale": {"domain": [160, 580], "nice": false, "zero": false},
                  "axis": {"values": [160,190,220,250,280,310,340,370,400,430,460,490,520],
                           "labelExpr": "datum.value == 190 ? 'A' : datum.value == 250 ? 'B' : datum.value == 310 ? 'C' : datum.value == 370 ? 'D' : datum.value == 430 ? 'E' : datum.value == 490 ? 'F' : datum.value == 220 ? '140°W' : datum.value == 280 ? '80°W' : datum.value == 340 ? '20°W' : datum.value == 400 ? '40°E' : datum.value == 460 ? '100°E' : '160°E'",
                           "labelAngle": 270, "labelAlign": "center", "labelBaseline": "bottom", "labelPadding": 19,
                           "labelFontSize": {"condition": {"test": "(datum.value - 190) % 60 == 0", "value": 27}, "value": 21},
                           "labelFontWeight": {"condition": {"test": "(datum.value - 190) % 60 == 0", "value": "bold"}, "value": "normal"},
                           "labelOverlap": false, "labelFlush": false, "labelBound": false, "grid": false, "title": null}},
            "x": {"field": "h", "type": "quantitative", "scale": {"domain": [0, 4], "reverse": true, "nice": false},
                  "axis": {"orient": "bottom", "values": [0,1,2,3,4], "domain": true, "domainColor": "black", "domainWidth": 2, "labelAngle": 270, "labelAlign": "right", "labelBaseline": "middle", "labelPadding": 5, "labelFontSize": 26, "labelFlush": false, "grid": false, "title": ["Max Topography", "Height (km)"], "titleAngle": 180, "titleBaseline": "bottom", "titleFontSize": 24, "titleLineHeight": 28, "titlePadding": 34}}
          }
        },
        {
          "data": {"name": "heightTicks"},
          "mark": {"type": "rule", "color": "black", "strokeWidth": 2},
          "encoding": {"x": {"field": "h", "type": "quantitative"}, "y": {"datum": 160}, "y2": {"datum": 163.2}}
        },
        {
          "data": {"name": "sectors"},
          "mark": {"type": "rule", "color": "#444444", "strokeWidth": 1.8, "strokeDash": [8, 5]},
          "encoding": {"y": {"field": "lon", "type": "quantitative"}, "x": {"datum": 4}, "x2": {"datum": 0}}
        },
        {
          "data": {"values": [{}]},
          "mark": {"type": "rule", "color": "black", "strokeWidth": 2},
          "encoding": {"x": {"datum": 0}, "y": {"datum": 160}, "y2": {"datum": 520}}
        },
        {
          "data": {"name": "islands"},
          "mark": {"type": "text", "angle": 215, "align": "right", "baseline": "middle", "fontSize": 14.5},
          "encoding": {"y": {"field": "lon", "type": "quantitative"}, "x": {"field": "h", "type": "quantitative"}, "text": {"field": "name"}}
        }
      ]
    }
  ],
  "spacing": 2
}
